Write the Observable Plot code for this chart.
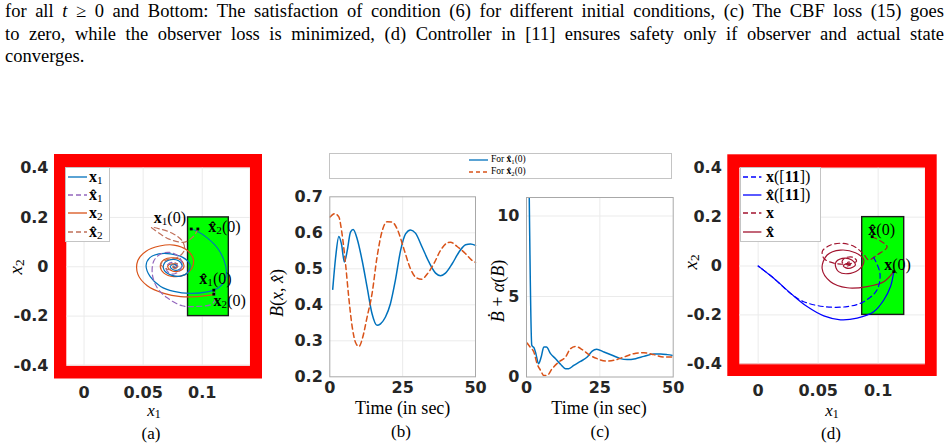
<!DOCTYPE html>
<html>
<head>
<meta charset="utf-8">
<script src="https://cdn.jsdelivr.net/npm/d3@7"></script>
<script src="https://cdn.jsdelivr.net/npm/@observablehq/plot@0.6"></script>
<style>
  html,body{margin:0;padding:0;background:#fff;}
  #root{position:relative;width:949px;height:444px;overflow:hidden;background:#fff;font-family:"Liberation Serif","DejaVu Serif",serif;color:#000;}
  .pane{position:absolute;}
  .lbl{position:absolute;white-space:nowrap;line-height:1;}
  .cap{position:absolute;left:5px;white-space:nowrap;font-size:18.5px;line-height:22px;}
  .leg{position:absolute;background:#fff;border:1px solid #c4c4c4;box-sizing:border-box;}
  sub{font-size:70%;vertical-align:-0.2em;line-height:0;}
</style>
</head>
<body>
<div id="root"></div>
<script>
// ---------------- caption text ----------------
const captionLines = [
  'for all <i>t</i> ≥ 0 and Bottom: The satisfaction of condition (6) for different initial conditions, (c) The CBF loss (15) goes',
  'to zero, while the observer loss is minimized, (d) Controller in [11] ensures safety only if observer and actual state',
  'converges.'
];

// ---------------- tick values / labels ----------------
const xTicksState = [0, 0.05, 0.1];
const xTickLabelsState = ["0", "0.05", "0.1"];
const yTicksState = [-0.4, -0.2, 0, 0.2, 0.4];
const yTickLabelsState = ["-0.4", "-0.2", "0", "0.2", "0.4"];
const xTicksTime = [0, 25, 50];
const xTickLabelsTime = ["0", "25", "50"];
const yTicksB = [0.2, 0.3, 0.4, 0.5, 0.6, 0.7];
const yTickLabelsB = ["0.2", "0.3", "0.4", "0.5", "0.6", "0.7"];
const yTicksC = [0, 5, 10];
const yTickLabelsC = ["0", "5", "10"];

// ---------------- regions (data space) ----------------
const obstacleA = [{x1: -0.025, x2: 0.151, y1: -0.455, y2: 0.455}];
const workspaceA = [{x1: -0.0146, x2: 0.1408, y1: -0.4, y2: 0.4}];
const goalA = [{x1: 0.088, x2: 0.1225, y1: -0.2, y2: 0.2}];
const obstacleD = [{x1: -0.0253, x2: 0.1492, y1: -0.452, y2: 0.455}];
const workspaceD = [{x1: -0.0153, x2: 0.1394, y1: -0.4, y2: 0.4}];
const goalD = [{x1: 0.0867, x2: 0.1217, y1: -0.2, y2: 0.2}];

// ---------------- panel (a) trajectories [x1, x2] ----------------
const a_x1 = [[0.0907,0.153],[0.0958,0.144],[0.1042,0.117],[0.1127,0.077],[0.1182,0.029],[0.1205,-0.018],[0.1190,-0.058],[0.1135,-0.086],[0.1040,-0.102],[0.0900,-0.108],[0.0760,-0.100],[0.0648,-0.080],[0.0560,-0.040],[0.0525,0.005],[0.0555,0.036],[0.0633,0.052],[0.0732,0.052],[0.0835,0.038],[0.0895,0.010],[0.0880,-0.022],[0.0817,-0.038],[0.0732,-0.033],[0.0676,-0.012],[0.0680,0.015],[0.0735,0.029],[0.0800,0.024],[0.0830,0.004],[0.0800,-0.012],[0.0755,-0.012],[0.0730,0.001],[0.0755,0.010],[0.0785,0.003],[0.0770,-0.004],[0.0760,0.001]];
const a_x2 = [[0.1098,-0.113],[0.0958,-0.121],[0.0817,-0.121],[0.0676,-0.108],[0.0535,-0.077],[0.0455,-0.030],[0.0455,0.025],[0.0525,0.063],[0.0640,0.084],[0.0760,0.088],[0.0870,0.068],[0.0925,0.030],[0.0912,-0.006],[0.0855,-0.032],[0.0760,-0.040],[0.0676,-0.026],[0.0645,0.002],[0.0676,0.028],[0.0760,0.036],[0.0830,0.022],[0.0842,-0.004],[0.0790,-0.019],[0.0730,-0.013],[0.0708,0.003],[0.0745,0.012],[0.0790,0.004],[0.0775,-0.006],[0.0750,-0.001],[0.0760,0.003]];
const a_x1hat = [[0.1098,-0.095],[0.1110,-0.130],[0.1080,-0.152],[0.0950,-0.161],[0.0830,-0.158],[0.0704,-0.126],[0.0620,-0.086],[0.0578,-0.031],[0.0590,0.023],[0.0648,0.052],[0.0725,0.058],[0.0800,0.042],[0.0830,0.010],[0.0800,-0.020],[0.0750,-0.030],[0.0700,-0.015],[0.0710,0.010],[0.0760,0.018],[0.0790,0.005],[0.0770,-0.006],[0.0760,0.000]];
const a_x2hat = [[0.0963,0.153],[0.0930,0.125],[0.0850,0.100],[0.0720,0.112],[0.0600,0.148],[0.0570,0.160],[0.0650,0.152],[0.0750,0.135],[0.0830,0.105],[0.0850,0.070],[0.0800,0.040],[0.0700,0.028],[0.0650,0.010],[0.0700,-0.010],[0.0780,-0.005],[0.0800,0.010],[0.0760,0.013],[0.0750,0.002],[0.0770,0.000]];
const a_starts = [[0.0907,0.153],[0.0963,0.153],[0.1098,-0.095],[0.1098,-0.111]];
const a_notes = [
  {x: 0.0867, y: 0.195, html: '<b>x</b><sub>1</sub>(0)', anchor: "end"},
  {x: 0.1056, y: 0.159, html: '<b>x&#770;</b><sub>2</sub>(0)', anchor: "start"},
  {x: 0.0980, y: -0.051, html: '<b>x&#770;</b><sub>1</sub>(0)', anchor: "start"},
  {x: 0.1100, y: -0.139, html: '<b>x</b><sub>2</sub>(0)', anchor: "start"}
];

// ---------------- panel (b) B(x, xhat) vs time ----------------
const b_t1 = [1.0,2.0,3.1,4.0,5.0,6.0,7.1,8.0,9.4,11.1,12.8,14.5,16.2,17.4,19.1,20.8,22.5,24.3,26.0,27.7,29.4,31.7,34.0,36.3,38.0,39.7,42.0,44.3,46.6,48.3,50];
const b_v1 = [0.443,0.532,0.590,0.569,0.519,0.551,0.602,0.609,0.583,0.523,0.449,0.375,0.343,0.347,0.366,0.403,0.468,0.551,0.597,0.608,0.599,0.560,0.519,0.488,0.481,0.488,0.514,0.546,0.567,0.569,0.565];
const b_t2 = [0.1,1.7,3.1,4.2,5.4,6.5,7.7,8.8,10.0,11.3,12.8,14.5,16.2,18.0,19.7,21.4,23.1,25.4,27.7,29.4,31.5,33.5,35.7,38.0,40.3,41.4,43.7,46.6,48.9,50];
const b_v2 = [0.644,0.653,0.644,0.597,0.514,0.421,0.338,0.296,0.284,0.310,0.366,0.431,0.532,0.606,0.631,0.630,0.611,0.556,0.500,0.477,0.471,0.486,0.514,0.551,0.572,0.574,0.562,0.542,0.523,0.518];

// ---------------- panel (c) Bdot + alpha(B) vs time ----------------
const c_t1 = [0.9,1.8,2.7,3.2,4.1,5.0,5.9,6.8,8.2,9.9,11.6,13.3,14.4,16.1,18.4,20.7,22.4,23.9,26.4,29.2,32.0,34.3,37.2,40.0,43.4,45.7,48.0,50];
const c_v1 = [11.8,1.97,1.76,1.45,0.83,1.24,1.86,1.86,1.45,1.14,0.79,0.52,0.52,0.72,0.97,1.24,1.61,1.72,1.55,1.35,1.14,1.08,1.14,1.28,1.43,1.43,1.39,1.33];
const c_t2 = [0.2,1.4,2.5,3.6,4.8,5.9,7.0,8.75,11.0,13.3,15.0,16.7,19.0,21.25,24.1,26.9,29.8,33.2,36.6,40.0,43.4,46.8,50];
const c_v2 = [2.11,1.82,1.55,0.83,0.41,0.10,0.10,0.52,0.93,1.24,1.76,1.90,1.70,1.39,1.14,0.99,1.04,1.24,1.45,1.51,1.39,1.24,1.24];

// ---------------- panel (d) trajectories ----------------
const d_x11 = [[0.0963,0.035],[0.1015,-0.030],[0.0990,-0.098],[0.0880,-0.146],[0.0742,-0.166],[0.0547,-0.166],[0.0380,-0.146],[0.0290,-0.120],[0.0214,-0.088],[0.0130,-0.050],[0,0]];
const d_xhat11 = [[0.1130,-0.023],[0.1103,-0.084],[0.1047,-0.139],[0.0963,-0.187],[0.0825,-0.213],[0.0686,-0.220],[0.0547,-0.204],[0.0408,-0.166],[0.0269,-0.111],[0.0130,-0.050],[0,0]];
const d_x = [[0.0950,0.120],[0.1075,0.079],[0.0990,0.045],[0.0920,0.025],[0.0880,0.048],[0.0800,0.080],[0.0700,0.093],[0.0600,0.085],[0.0535,0.060],[0.0550,0.030],[0.0630,0.012],[0.0740,0.008],[0.0820,0.020],[0.0790,0.036],[0.0720,0.032],[0.0700,0.015],[0.0750,0.007],[0.0780,0.012],[0.0750,0.016],[0.0740,0.005]];
const d_xhat = [[0.1130,-0.023],[0.1047,-0.064],[0.0908,-0.084],[0.0742,-0.089],[0.0603,-0.064],[0.0533,-0.010],[0.0575,0.045],[0.0686,0.065],[0.0810,0.054],[0.0880,0.025],[0.0850,-0.010],[0.0770,-0.030],[0.0670,-0.023],[0.0644,0.011],[0.0700,0.031],[0.0780,0.025],[0.0810,0.004],[0.0755,-0.010],[0.0710,0.000],[0.0740,0.010],[0.0770,0.004],[0.0745,0.000]];
const d_starts = [[0.0950,0.120],[0.1130,-0.023]];
const d_notes = [
  {x: 0.0922, y: 0.147, html: '<b>x&#770;</b>(0)', anchor: "start"},
  {x: 0.1055, y: 0.004, html: '<b>x</b>(0)', anchor: "start"}
];

// ---------------- helpers ----------------
const root = document.getElementById("root");
const SERIF = '"Liberation Serif","DejaVu Serif",serif';
const SANS = '"DejaVu Sans",sans-serif';
const fmt = (ticks, labels) => { const m = new Map(ticks.map((t, i) => [t, labels[i]])); return d => m.get(d) ?? ""; };
const pairs = (ts, vs) => ts.map((t, i) => [t, vs[i]]);
const axisStyle = {fontFamily: SANS, fontSize: "16px", fontWeight: "bold", color: "#262626", background: "transparent", overflow: "visible"};

function pane(plot, left, top) {
  const d = document.createElement("div");
  d.className = "pane"; d.style.left = left + "px"; d.style.top = top + "px";
  d.appendChild(plot); root.appendChild(d);
  return plot;
}
function label(html, x, y, o = {}) {
  const el = document.createElement("div");
  el.className = "lbl";
  el.innerHTML = html;
  el.style.left = x + "px"; el.style.top = y + "px";
  el.style.fontSize = (o.size || 16) + "px";
  el.style.fontFamily = o.family || SERIF;
  if (o.weight) el.style.fontWeight = o.weight;
  if (o.color) el.style.color = o.color;
  const ax = o.anchor === "start" ? "0%" : o.anchor === "end" ? "-100%" : "-50%";
  el.style.transform = `translate(${ax},-50%)` + (o.rotate ? ` rotate(${o.rotate}deg)` : "");
  root.appendChild(el);
  return el;
}
function sample(x0, x1, y, color, dash, width) {
  const ns = "http://www.w3.org/2000/svg";
  const s = document.createElementNS(ns, "svg");
  s.setAttribute("width", x1 - x0); s.setAttribute("height", 6);
  s.style.position = "absolute"; s.style.left = x0 + "px"; s.style.top = (y - 3) + "px";
  const l = document.createElementNS(ns, "line");
  l.setAttribute("x1", 0); l.setAttribute("x2", x1 - x0); l.setAttribute("y1", 3); l.setAttribute("y2", 3);
  l.setAttribute("stroke", color); l.setAttribute("stroke-width", width || 1.3);
  if (dash) l.setAttribute("stroke-dasharray", dash);
  s.appendChild(l); root.appendChild(s);
}
function box(left, top, w, h) {
  const b = document.createElement("div");
  b.className = "leg"; b.style.left = left + "px"; b.style.top = top + "px";
  b.style.width = w + "px"; b.style.height = h + "px";
  root.appendChild(b);
}

// ---------------- caption ----------------
captionLines.forEach((html, i) => {
  const el = document.createElement("div");
  el.className = "cap"; el.style.top = (i * 22.5) + "px"; el.innerHTML = html;
  root.appendChild(el);
  if (i < 2) {
    const w = el.getBoundingClientRect().width;
    const n = (el.textContent.match(/ /g) || []).length;
    el.style.wordSpacing = ((939 - w) / n) + "px";
  }
});

// colors
const BLUE = "#0072BD", ORANGE = "#D95319", PURPLE = "#9467BD", BROWN = "#C0705A";
const PBLUE = "#0000FF", DRED = "#A2142F";

// ---------------- state-space panel builder ----------------
function statePanel(obstacle, workspace, goal, lines, starts, geom) {
  const o = obstacle[0];
  return Plot.plot({
    width: geom.width, height: geom.height,
    marginLeft: geom.ml, marginRight: geom.mr, marginTop: geom.mt, marginBottom: geom.mb,
    style: axisStyle,
    x: {domain: [o.x1, o.x2], ticks: xTicksState, tickFormat: fmt(xTicksState, xTickLabelsState), tickSize: 0, tickPadding: geom.xpad, label: null},
    y: {domain: [o.y1, o.y2], ticks: yTicksState, tickFormat: fmt(yTicksState, yTickLabelsState), tickSize: 0, tickPadding: 6, label: null},
    marks: [
      Plot.rect(obstacle, {x1: "x1", x2: "x2", y1: "y1", y2: "y2", fill: "#ff0000"}),
      Plot.rect(workspace, {x1: "x1", x2: "x2", y1: "y1", y2: "y2", fill: "#ffffff"}),
      Plot.ruleX(xTicksState, {y1: workspace[0].y1, y2: workspace[0].y2, stroke: "#ebebeb", strokeWidth: 1}),
      Plot.ruleY(yTicksState, {x1: workspace[0].x1, x2: workspace[0].x2, stroke: "#ebebeb", strokeWidth: 1}),
      Plot.rect(goal, {x1: "x1", x2: "x2", y1: "y1", y2: "y2", fill: "#00ff00", stroke: "#1a1a1a", strokeWidth: 1.4}),
      ...lines.map(l => Plot.line(l.data, {x: d => d[0], y: d => d[1], stroke: l.color, strokeWidth: l.width || 1.2, strokeDasharray: l.dash || null, curve: "catmull-rom"})),
      Plot.dot(starts, {x: d => d[0], y: d => d[1], symbol: "square", r: 1.6, fill: "#000"})
    ]
  });
}

// ---------------- panel (a) ----------------
const LEFT_A = 0, TOP_A = 145;
const plotA = pane(statePanel(obstacleA, workspaceA, goalA, [
  {data: a_x2, color: ORANGE},
  {data: a_x1, color: BLUE},
  {data: a_x1hat, color: PURPLE, dash: "5,3.5"},
  {data: a_x2hat, color: BROWN, dash: "5,3.5"}
], a_starts, {width: 270, height: 299, ml: 54, mr: 8, mt: 9, mb: 65.5, xpad: 8}), LEFT_A, TOP_A);
{
  const sx = plotA.scale("x"), sy = plotA.scale("y");
  a_notes.forEach(n => label(n.html, LEFT_A + sx.apply(n.x), TOP_A + sy.apply(n.y), {anchor: n.anchor, size: 16}));
}
label('<i>x</i><sub>1</sub>', 154, 410, {size: 17});
label('(a)', 151, 433, {size: 17});
label('<i>x</i><sub>2</sub>', 15, 267, {size: 19, rotate: -90});
box(65, 167, 45, 75);
[[177.3, BLUE, null, '<b>x</b><sub>1</sub>'], [195, PURPLE, "5,3", '<b>x&#770;</b><sub>1</sub>'], [213.3, ORANGE, null, '<b>x</b><sub>2</sub>'], [232.3, BROWN, "5,3", '<b>x&#770;</b><sub>2</sub>']]
  .forEach(([y, c, dash, html]) => { sample(68, 87, y, c, dash, 1.3); label(html, 89, y, {anchor: "start", size: 16}); });

// ---------------- panel (b) ----------------
const plotB = pane(Plot.plot({
  width: 220, height: 259,
  marginLeft: 59.3, marginRight: 15, marginTop: 11.3, marginBottom: 67.7,
  style: axisStyle,
  x: {domain: [0, 50], ticks: xTicksTime, tickFormat: fmt(xTicksTime, xTickLabelsTime), tickSize: 0, tickPadding: 5, label: null},
  y: {domain: [0.2, 0.7], ticks: yTicksB, tickFormat: fmt(yTicksB, yTickLabelsB), tickSize: 0, tickPadding: 7, label: null},
  marks: [
    Plot.ruleY(yTicksB.slice(1, -1), {stroke: "#ebebeb"}),
    Plot.ruleX(xTicksTime.slice(1, -1), {stroke: "#ebebeb"}),
    Plot.line(pairs(b_t1, b_v1), {x: d => d[0], y: d => d[1], stroke: BLUE, strokeWidth: 1.5, curve: "monotone-x"}),
    Plot.line(pairs(b_t2, b_v2), {x: d => d[0], y: d => d[1], stroke: ORANGE, strokeWidth: 1.5, strokeDasharray: "5,3.5", curve: "monotone-x"}),
    Plot.frame({stroke: "#a8a8a8"})
  ]
}), 270, 185);
label('<i>B</i>(<i>x</i>, <i>x&#770;</i>)', 277, 293, {size: 18, rotate: -90});
label('Time (in sec)', 402.7, 408, {size: 18});
label('(b)', 401, 431, {size: 17});

// ---------------- panel (c) ----------------
const plotC = pane(Plot.plot({
  width: 200, height: 259,
  marginLeft: 36, marginRight: 17.3, marginTop: 12, marginBottom: 67.5,
  style: axisStyle,
  x: {domain: [0, 50], ticks: xTicksTime, tickFormat: fmt(xTicksTime, xTickLabelsTime), tickSize: 0, tickPadding: 5, label: null},
  y: {domain: [0, 11.15], ticks: yTicksC, tickFormat: fmt(yTicksC, yTickLabelsC), tickSize: 0, tickPadding: 7, label: null},
  marks: [
    Plot.ruleY(yTicksC.slice(1), {stroke: "#ebebeb"}),
    Plot.ruleX(xTicksTime.slice(1, -1), {stroke: "#ebebeb"}),
    Plot.line(pairs(c_t1, c_v1), {x: d => d[0], y: d => d[1], stroke: BLUE, strokeWidth: 1.5, curve: "monotone-x", clip: true}),
    Plot.line(pairs(c_t2, c_v2), {x: d => d[0], y: d => d[1], stroke: ORANGE, strokeWidth: 1.5, strokeDasharray: "5,3.5", curve: "monotone-x", clip: true}),
    Plot.frame({stroke: "#a8a8a8"})
  ]
}), 490, 185);
label('<i>B&#775;</i> + <i>α</i>(<i>B</i>)', 498, 291, {size: 18, rotate: -90});
label('Time (in sec)', 599, 408, {size: 18});
label('(c)', 600, 431, {size: 17});

// shared legend for (b) and (c)
box(329.3, 153.3, 342.4, 26);
sample(469, 488, 160, BLUE, null, 1.3);
label('For <b>x&#770;</b><sub>1</sub>(0)', 491, 160, {anchor: "start", size: 9.5});
sample(469, 488, 172.3, ORANGE, "4,3", 1.3);
label('For <b>x&#770;</b><sub>2</sub>(0)', 491, 172.3, {anchor: "start", size: 9.5});

// ---------------- panel (d) ----------------
const LEFT_D = 690, TOP_D = 145;
const plotD = pane(statePanel(obstacleD, workspaceD, goalD, [
  {data: d_xhat, color: DRED},
  {data: d_x, color: DRED, dash: "5,3.5"},
  {data: d_xhat11, color: PBLUE},
  {data: d_x11, color: PBLUE, dash: "5,3.5"}
], d_starts, {width: 259, height: 299, ml: 37.3, mr: 12.3, mt: 9.3, mb: 68, xpad: 8}), LEFT_D, TOP_D);
{
  const sx = plotD.scale("x"), sy = plotD.scale("y");
  d_notes.forEach(n => label(n.html, LEFT_D + sx.apply(n.x), TOP_D + sy.apply(n.y), {anchor: n.anchor, size: 16}));
}
label('<i>x</i><sub>1</sub>', 832, 410, {size: 17});
label('(d)', 831, 433, {size: 17});
label('<i>x</i><sub>2</sub>', 690, 262, {size: 19, rotate: -90});
box(740, 167.3, 80.7, 75);
[[177.3, PBLUE, "5,3", '<b>x</b>([<b>11</b>])'], [195, PBLUE, null, '<b>x&#770;</b>([<b>11</b>])'], [213.3, DRED, "5,3", '<b>x</b>'], [232.3, DRED, null, '<b>x&#770;</b>']]
  .forEach(([y, c, dash, html]) => { sample(743.3, 761.7, y, c, dash, 1.3); label(html, 766, y, {anchor: "start", size: 16}); });
</script>
</body>
</html>
